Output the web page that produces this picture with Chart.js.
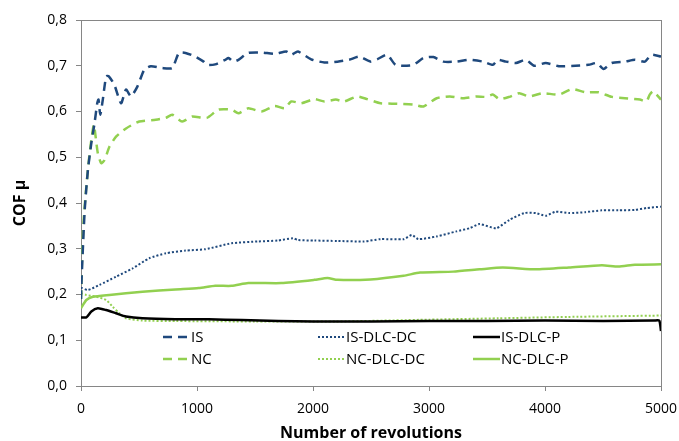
<!DOCTYPE html>
<html>
<head>
<meta charset="utf-8">
<script src="https://cdn.jsdelivr.net/npm/chart.js@4.4.0/dist/chart.umd.min.js"></script>
<style>
  html, body { margin: 0; padding: 0; background: #fff; }
  #wrap { width: 679px; height: 441px; position: relative; }
</style>
</head>
<body>
<div id="wrap"><canvas id="cofChart"></canvas></div>
<script>
// Axis ticks
const xTicks = [0, 1000, 2000, 3000, 4000, 5000];
const yTicks = [0, 0.1, 0.2, 0.3, 0.4, 0.5, 0.6, 0.7, 0.8];

// IS (dashed blue)
const isX = [0, 6, 32, 60, 89, 117, 140, 151, 166, 188, 217, 240, 288, 345, 388, 431, 487, 545, 602, 701,
  786, 844, 901, 986, 1057, 1085, 1157, 1243, 1271, 1314, 1357, 1442, 1556, 1670, 1770, 1812, 1870, 1984, 2098, 2211,
  2311, 2397, 2496, 2553, 2639, 2710, 2781, 2867, 2952, 3038, 3123, 3237, 3351, 3465, 3550, 3593, 3664, 3750, 3835, 3906,
  4006, 4120, 4262, 4376, 4447, 4504, 4575, 4689, 4775, 4860, 4917, 5000];
const isY = [0.19, 0.24, 0.385, 0.473, 0.531, 0.575, 0.618, 0.626, 0.593, 0.626, 0.677, 0.677, 0.658, 0.618, 0.648, 0.633, 0.655, 0.691, 0.699, 0.695,
  0.695, 0.728, 0.728, 0.720, 0.709, 0.702, 0.703, 0.713, 0.717, 0.709, 0.713, 0.728, 0.729, 0.726, 0.731, 0.724, 0.731, 0.714, 0.707, 0.709,
  0.713, 0.720, 0.709, 0.714, 0.724, 0.702, 0.700, 0.702, 0.717, 0.719, 0.709, 0.709, 0.713, 0.709, 0.702, 0.713, 0.709, 0.706, 0.713, 0.700,
  0.706, 0.699, 0.700, 0.702, 0.706, 0.693, 0.706, 0.709, 0.713, 0.709, 0.724, 0.720];

// IS-DLC-DC (dotted blue)
const isDcX = [0, 60, 160, 302, 445, 587, 730, 901, 1072, 1299, 1527, 1698, 1827, 1870, 2011, 2211, 2439, 2582, 2781, 2852,
  2909, 3066, 3237, 3351, 3436, 3579, 3693, 3821, 3921, 4006, 4091, 4205, 4348, 4490, 4632, 4775, 4875, 5000];
const isDcY = [0.215, 0.210, 0.221, 0.239, 0.257, 0.279, 0.290, 0.296, 0.299, 0.312, 0.316, 0.318, 0.323, 0.319, 0.318, 0.317, 0.316, 0.321, 0.321, 0.330,
  0.321, 0.327, 0.338, 0.345, 0.354, 0.345, 0.363, 0.378, 0.378, 0.372, 0.381, 0.378, 0.380, 0.384, 0.384, 0.385, 0.389, 0.392];

// IS-DLC-P (solid black)
const isPX = [0, 46, 89, 145, 217, 302, 388, 530, 815, 1100, 1385, 1700, 2000, 2500, 3000, 3500, 4000, 4500, 4940, 4985, 5000];
const isPY = [0.150, 0.150, 0.163, 0.170, 0.166, 0.159, 0.152, 0.148, 0.146, 0.146, 0.144, 0.142, 0.141, 0.141, 0.142, 0.142, 0.143, 0.142, 0.143, 0.143, 0.120];

// NC (dashed green)
const ncX = [0, 8, 23, 46, 68, 89, 111, 126, 145, 174, 203, 245, 302, 388, 502, 644, 730, 786, 872, 957,
  1085, 1185, 1299, 1357, 1442, 1556, 1670, 1755, 1812, 1898, 2011, 2098, 2197, 2268, 2382, 2468, 2582, 2724, 2867, 2952,
  3066, 3180, 3294, 3408, 3493, 3550, 3607, 3693, 3778, 3864, 3978, 4120, 4234, 4348, 4462, 4575, 4689, 4818, 4875, 4903,
  4932, 5000];
const ncY = [0.19, 0.27, 0.363, 0.436, 0.494, 0.538, 0.571, 0.545, 0.509, 0.487, 0.494, 0.523, 0.545, 0.563, 0.578, 0.582, 0.586, 0.593, 0.578, 0.589,
  0.586, 0.604, 0.604, 0.596, 0.607, 0.600, 0.612, 0.607, 0.622, 0.618, 0.627, 0.622, 0.626, 0.622, 0.633, 0.627, 0.618, 0.617, 0.615, 0.611,
  0.629, 0.633, 0.629, 0.633, 0.632, 0.637, 0.627, 0.632, 0.640, 0.633, 0.640, 0.637, 0.649, 0.642, 0.642, 0.632, 0.629, 0.626, 0.622, 0.637,
  0.644, 0.626];

// NC-DLC-DC (dotted green)
const ncDcX = [0, 46, 131, 217, 274, 331, 388, 530, 815, 1500, 2200, 3000, 3600, 4200, 5000];
const ncDcY = [0.203, 0.199, 0.195, 0.188, 0.173, 0.159, 0.148, 0.143, 0.142, 0.141, 0.141, 0.145, 0.148, 0.151, 0.154];

// NC-DLC-P (solid green)
const ncPX = [0, 46, 103, 245, 530, 815, 1015, 1157, 1299, 1442, 1727, 2011, 2125, 2211, 2496, 2781, 2923, 3208, 3436, 3636,
  3921, 4205, 4490, 4632, 4775, 5000];
const ncPY = [0.170, 0.188, 0.195, 0.199, 0.206, 0.211, 0.214, 0.219, 0.219, 0.225, 0.225, 0.232, 0.236, 0.232, 0.233, 0.241, 0.248, 0.250, 0.255, 0.259,
  0.255, 0.259, 0.264, 0.261, 0.265, 0.266];

const BLUE = '#1F497D';
const GREEN = '#92D050';
const AXIS = '#868686';
const FONT = '"Open Sans", "Liberation Sans", sans-serif';

const pts = (xs, ys) => xs.map((x, i) => ({ x: x, y: ys[i] }));

function line(label, xs, ys, color, dash, width) {
  return {
    label: label,
    data: pts(xs, ys),
    borderColor: color,
    borderWidth: width,
    borderDash: dash,
    pointRadius: 0,
    tension: 0.2,
    fill: false
  };
}

// frame around the plot area (top/right edges like Excel)
const plotFrame = {
  id: 'plotFrame',
  beforeDatasetsDraw(chart) {
    const { ctx, chartArea: a } = chart;
    ctx.save();
    ctx.strokeStyle = AXIS;
    ctx.lineWidth = 1;
    ctx.strokeRect(a.left + 0.5, a.top + 0.5, a.right - a.left, a.bottom - a.top);
    ctx.restore();
  }
};

// legend drawn inside the plot, 3 columns x 2 rows
const insideLegend = {
  id: 'insideLegend',
  afterDraw(chart) {
    const { ctx, chartArea } = chart;
    ctx.save();
    chart.data.datasets.forEach((ds, i) => {
      const col = i % 3, row = Math.floor(i / 3);
      const x = chartArea.left + 82 + col * 155;
      const y = chartArea.top + 317 + row * 22;
      ctx.strokeStyle = ds.borderColor;
      ctx.lineWidth = ds.borderWidth;
      ctx.setLineDash(ds.borderDash || []);
      ctx.beginPath();
      ctx.moveTo(x, y);
      ctx.lineTo(x + 27, y);
      ctx.stroke();
      ctx.setLineDash([]);
      ctx.fillStyle = '#000';
      ctx.font = '15px ' + FONT;
      ctx.textBaseline = 'middle';
      ctx.fillText(ds.label, x + 28, y + 1);
    });
    ctx.restore();
  }
};

const ctx = document.getElementById('cofChart').getContext('2d');

const cofChart = new Chart(ctx, {
  type: 'line',
  data: {
    datasets: [
      line('IS', isX, isY, BLUE, [9, 6], 2.5),
      line('IS-DLC-DC', isDcX, isDcY, BLUE, [2, 2], 2),
      line('IS-DLC-P', isPX, isPY, '#000000', [], 2.5),
      line('NC', ncX, ncY, GREEN, [9, 6], 2.5),
      line('NC-DLC-DC', ncDcX, ncDcY, GREEN, [2, 2], 2),
      line('NC-DLC-P', ncPX, ncPY, GREEN, [], 2.5)
    ]
  },
  options: {
    responsive: true,
    maintainAspectRatio: false,
    animation: false,
    layout: { padding: { top: 20, right: 18, left: 0, bottom: 0 } },
    plugins: {
      legend: { display: false },
      tooltip: { enabled: false }
    },
    scales: {
      x: {
        type: 'linear',
        min: 0,
        max: 5000,
        afterBuildTicks: s => { s.ticks = xTicks.map(v => ({ value: v })); },
        afterFit: s => { s.height = 55; s.paddingLeft = 0; s.paddingRight = 0; },
        ticks: {
          color: '#000',
          font: { family: FONT, size: 14 },
          padding: 10,
          maxRotation: 0,
          autoSkip: false,
          callback: v => String(v)
        },
        grid: { drawOnChartArea: false, drawTicks: true, tickLength: 5, color: AXIS },
        border: { color: AXIS },
        title: {
          display: true,
          text: 'Number of revolutions',
          color: '#000',
          font: { family: FONT, size: 16, weight: 'bold', lineHeight: 1 },
          padding: { top: 0, bottom: 0 }
        }
      },
      y: {
        min: 0,
        max: 0.8,
        afterBuildTicks: s => { s.ticks = yTicks.map(v => ({ value: v })); },
        afterFit: s => { s.width = 81; s.paddingTop = 0; s.paddingBottom = 0; },
        ticks: {
          color: '#000',
          font: { family: FONT, size: 14 },
          padding: 9,
          callback: v => v.toFixed(1).replace('.', ',')
        },
        grid: { drawOnChartArea: false, drawTicks: true, tickLength: 5, color: AXIS },
        border: { color: AXIS },
        title: {
          display: true,
          text: 'COF μ',
          color: '#000',
          font: { family: FONT, size: 16, weight: 'bold', lineHeight: 1 },
          padding: { top: 12, bottom: 0 }
        }
      }
    }
  },
  plugins: [plotFrame, insideLegend]
});
</script>
</body>
</html>
